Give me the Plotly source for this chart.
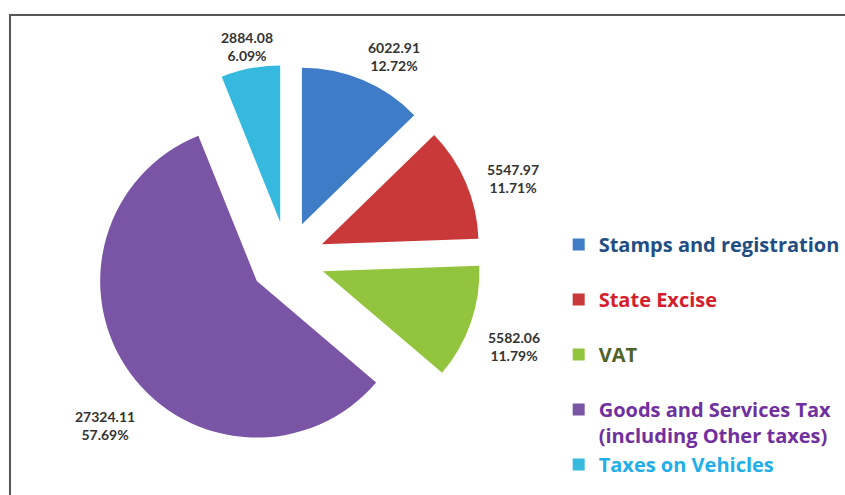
import plotly.graph_objects as go

categories = ["Stamps and registration", "State Excise", "VAT",
              "Goods and Services Tax<br>(including Other taxes)", "Taxes on Vehicles"]
values = [6022.91, 5547.97, 5582.06, 27324.11, 2884.08]
percents = ["12.72%", "11.71%", "11.79%", "57.69%", "6.09%"]

slice_colors = ["#3E7CC8", "#C9393A", "#92C43E", "#7A55A5", "#36B9DF"]
legend_text_colors = ["#1F4E84", "#D4202C", "#4F6228", "#7030A0", "#22AEE8"]
legend_pad = ["<br> ", "<br> ", "<br> ", "", ""]

# label centre positions in pixels (layout only)
label_px = [(395, 57), (514, 178), (515, 346), (105, 425), (248, 46)]

W, H = 845, 495

legend_labels = [
    f"<b><span style='color:{c}'>{t}</span></b>{p}"
    for t, c, p in zip(categories, legend_text_colors, legend_pad)
]

# pie geometry (pixels)
cx, cy = 288, 259
r = 157
pull = 0.24
half = r * (1 + pull)

fig = go.Figure()
fig.add_trace(go.Pie(
    labels=legend_labels,
    values=values,
    sort=False,
    direction="clockwise",
    rotation=0,
    pull=[pull] * len(values),
    marker=dict(colors=slice_colors, line=dict(width=0)),
    textinfo="none",
    hoverinfo="label+value+percent",
    domain=dict(x=[(cx - half) / W, (cx + half) / W],
                y=[1 - (cy + half) / H, 1 - (cy - half) / H]),
))

annotations = []
for v, p, (lx, ly) in zip(values, percents, label_px):
    annotations.append(dict(
        x=lx / W, y=1 - ly / H, xref="paper", yref="paper",
        text=f"<b>{v:.2f}<br>{p}</b>", showarrow=False,
        font=dict(family="Lato, Open Sans, sans-serif", size=14, color="#333333"),
        align="center", xanchor="center", yanchor="middle",
    ))

annotations.append(dict(
    x=1.0, y=1 - 4 / H, xref="paper", yref="paper",
    text="(₹ in crore)", showarrow=False, xanchor="right", yanchor="bottom",
    font=dict(family="Lato, sans-serif", size=26, color="#333333"),
))

fig.update_layout(
    width=W, height=H,
    margin=dict(l=0, r=0, t=0, b=0),
    paper_bgcolor="white",
    plot_bgcolor="white",
    showlegend=True,
    legend=dict(
        x=560 / W, y=1 - 225 / H, xanchor="left", yanchor="top",
        valign="top",
        font=dict(family="Open Sans, sans-serif", size=20, color="#333333"),
        bgcolor="rgba(0,0,0,0)",
        itemclick=False, itemdoubleclick=False,
    ),
    annotations=annotations,
    shapes=[dict(
        type="rect", xref="paper", yref="paper",
        x0=10 / W, x1=1.2, y0=-0.2, y1=1 - 15 / H,
        line=dict(color="#555555", width=2), fillcolor="rgba(0,0,0,0)",
    )],
)

fig.write_html(
    "out.html",
    config={"displayModeBar": False},
    post_script="document.body.style.margin='0';document.body.style.overflow='hidden';",
)
